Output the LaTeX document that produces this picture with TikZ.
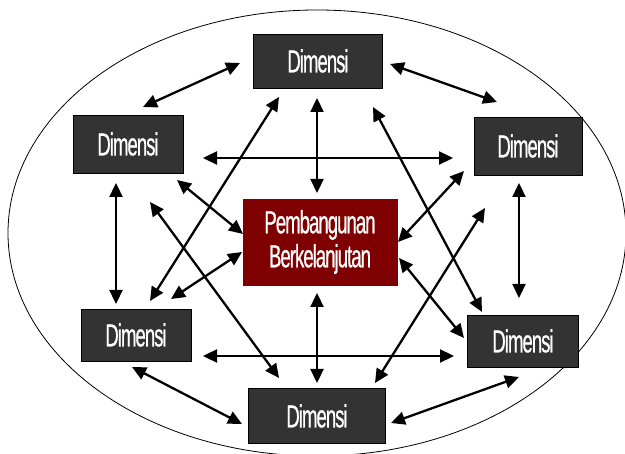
\documentclass[tikz,border=0pt]{standalone}
\usepackage{fontspec}
\setmainfont{Liberation Sans}
\newfontfamily\condfont[FakeStretch=0.58,LetterSpace=-3,FakeBold=0.6]{Liberation Sans}
\usetikzlibrary{arrows.meta,calc}
\definecolor{boxgray}{HTML}{333333}
\definecolor{boxred}{HTML}{7F0000}
\tikzset{
  dimbox/.style={draw=black, line width=0.8pt, fill=boxgray, text=white, inner sep=0pt,
    font=\condfont\fontsize{32}{34}\selectfont, align=center},
  centerbox/.style={dimbox, fill=boxred, draw=boxred},
  arr/.style={{Triangle[length=14pt,width=13pt]}-{Triangle[length=14pt,width=13pt]}, line width=2.3pt, black},
  outer/.style={draw=black, line width=0.8pt}
}
\begin{document}
\begin{tikzpicture}[x=1pt,y=-1pt]
\useasboundingbox (0,0) rectangle (625,454);
\fill[white] (0,0) rectangle (625,454);
\draw[outer] (317,233) ellipse [x radius=309, y radius=223];

\node[dimbox, minimum width=129pt, minimum height=54pt] (T)  at (318,61)  {Dimensi};
\node[dimbox, minimum width=110pt, minimum height=58pt] (UL) at (128,144) {Dimensi};
\node[dimbox, minimum width=108pt, minimum height=58pt] (UR) at (528,146) {Dimensi};
\node[dimbox, minimum width=110pt, minimum height=52pt] (LL) at (136,335) {Dimensi};
\node[dimbox, minimum width=111pt, minimum height=52pt] (LR) at (523,341) {Dimensi};
\node[dimbox, minimum width=137pt, minimum height=55pt] (B)  at (317,416) {Dimensi};
\node[centerbox, minimum width=154pt, minimum height=86pt] (C) at (320,242) {Pembangunan\\Berkelanjutan};

% endpoints
\coordinate (a1) at (143,107); \coordinate (a2) at (240,63);
\coordinate (b1) at (390,64);  \coordinate (b2) at (497,102);
\coordinate (c1) at (317,98);  \coordinate (c2) at (317,193);
\coordinate (d1) at (203,158); \coordinate (d2) at (453,158);
\coordinate (e1) at (116,183); \coordinate (e2) at (116,304);
\coordinate (f1) at (519,183); \coordinate (f2) at (519,298);
\coordinate (g1) at (177,180); \coordinate (g2) at (243,234);
\coordinate (h1) at (150,301); \coordinate (h2) at (279,97);
\coordinate (i1) at (150,202); \coordinate (i2) at (279,378);
\coordinate (j1) at (373,107); \coordinate (j2) at (482,312);
\coordinate (k1) at (464,171); \coordinate (k2) at (398,242);
\coordinate (l1) at (485,208); \coordinate (l2) at (375,383);
\coordinate (m1) at (171,299); \coordinate (m2) at (242,252);
\coordinate (n1) at (399,258); \coordinate (n2) at (464,338);
\coordinate (o1) at (203,356); \coordinate (o2) at (454,356);
\coordinate (p1) at (317,293); \coordinate (p2) at (317,383);
\coordinate (q1) at (132,367); \coordinate (q2) at (242,424);
\coordinate (r1) at (391,423); \coordinate (r2) at (519,377);

\foreach \s in {a,b,c,d,e,f,g,h,i,j,k,l,m,n,o,p,q,r}
  \draw[arr] (\s1) -- (\s2);
\end{tikzpicture}
\end{document}
